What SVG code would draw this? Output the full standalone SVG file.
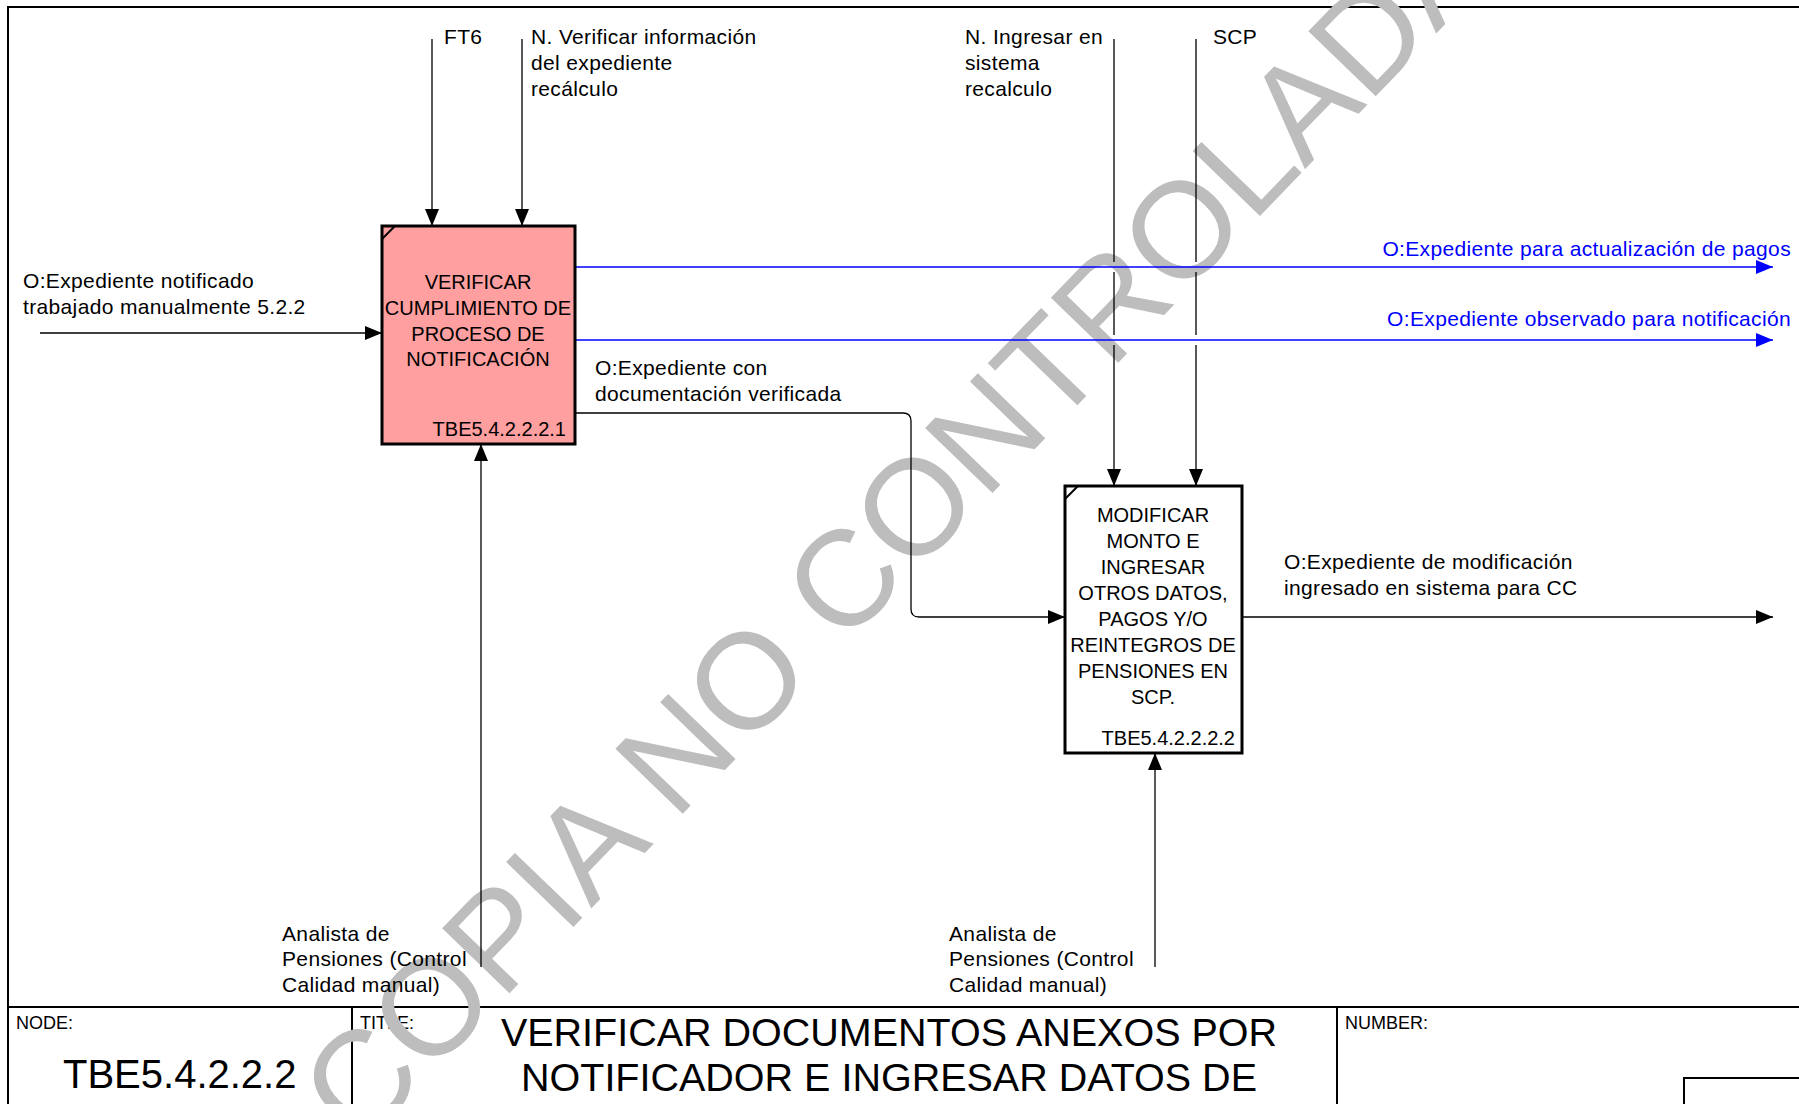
<svg xmlns="http://www.w3.org/2000/svg" width="1799" height="1104" viewBox="0 0 1799 1104">
<style>
text{font-family:"Liberation Sans",Arial,sans-serif;fill:#000}
.lbl{font-size:21px;letter-spacing:0.35px}
.blue{fill:#0000ff}
.bx{font-size:20px;text-anchor:middle}
.id{font-size:20px;text-anchor:end}
.ln{stroke:#000;stroke-width:1.3;fill:none}
.bl{stroke:#0000ff;stroke-width:1.6;fill:none}
.box{stroke:#000;stroke-width:3}
.frame{stroke:#000;stroke-width:2;fill:none}
.small{font-size:18px}
.wm{font-size:136px;fill:#bdbdbd}
</style>
<defs>
<marker id="ah" markerUnits="userSpaceOnUse" markerWidth="18" markerHeight="15" refX="17" refY="7" orient="auto"><path d="M0,0 L17,7 L0,14 z" fill="#000"/></marker>
<marker id="ahb" markerUnits="userSpaceOnUse" markerWidth="18" markerHeight="15" refX="17" refY="7" orient="auto"><path d="M0,0 L17,7 L0,14 z" fill="#0000ff"/></marker>
</defs>
<rect width="1799" height="1104" fill="#fff"/>
<g id="frame">
<path class="frame" d="M8,1104 L8,7 L1799,7"/>
<path class="frame" d="M8,1007 L1799,1007"/>
<path class="frame" d="M352,1007 L352,1104"/>
<path class="frame" d="M1337,1007 L1337,1104"/>
<path class="frame" d="M1684,1104 L1684,1078 L1799,1078"/>
<text class="small" x="16" y="1029">NODE:</text>
<text x="63" y="1088" style="font-size:40px">TBE5.4.2.2.2</text>
<text class="small" x="360" y="1029">TITLE:</text>
<text x="889" y="1046" style="font-size:39.5px" text-anchor="middle">VERIFICAR DOCUMENTOS ANEXOS POR</text>
<text x="889" y="1091" style="font-size:39.5px" text-anchor="middle">NOTIFICADOR E INGRESAR DATOS DE</text>
<text class="small" x="1345" y="1029">NUMBER:</text>
</g>
<g id="watermark">
<text class="wm" transform="translate(360,1148) rotate(-46)">COPIA NO CONTROLADA</text>
</g>
<g id="connectors">
<line class="ln" x1="432" y1="39" x2="432" y2="226" marker-end="url(#ah)"/>
<line class="ln" x1="522" y1="39" x2="522" y2="226" marker-end="url(#ah)"/>
<path class="ln" d="M1114,39 V262 M1114,272 V335 M1114,345 V486" marker-end="url(#ah)"/>
<path class="ln" d="M1196,39 V262 M1196,272 V335 M1196,345 V486" marker-end="url(#ah)"/>
<line class="ln" x1="40" y1="333" x2="382" y2="333" marker-end="url(#ah)"/>
<line class="bl" x1="575" y1="267" x2="1773" y2="267" marker-end="url(#ahb)"/>
<line class="bl" x1="575" y1="340" x2="1773" y2="340" marker-end="url(#ahb)"/>
<path class="ln" d="M575,413 H903 Q911,413 911,421 V609 Q911,617 919,617 H1065" marker-end="url(#ah)"/>
<line class="ln" x1="1243" y1="617" x2="1773" y2="617" marker-end="url(#ah)"/>
<line class="ln" x1="481" y1="967" x2="481" y2="444" marker-end="url(#ah)"/>
<line class="ln" x1="1155" y1="967" x2="1155" y2="753" marker-end="url(#ah)"/>
</g>
<g id="labels">
<text class="lbl" x="444" y="44">FT6</text>
<text class="lbl" x="531" y="44">N. Verificar información</text>
<text class="lbl" x="531" y="70">del expediente</text>
<text class="lbl" x="531" y="96">recálculo</text>
<text class="lbl" x="965" y="44">N. Ingresar en</text>
<text class="lbl" x="965" y="70">sistema</text>
<text class="lbl" x="965" y="96">recalculo</text>
<text class="lbl" x="1213" y="44">SCP</text>
<text class="lbl blue" x="1791" y="256" text-anchor="end">O:Expediente para actualización de pagos</text>
<text class="lbl blue" x="1791" y="326" text-anchor="end">O:Expediente observado para notificación</text>
<text class="lbl" x="23" y="288">O:Expediente notificado</text>
<text class="lbl" x="23" y="314">trabajado manualmente 5.2.2</text>
<text class="lbl" x="595" y="375">O:Expediente con</text>
<text class="lbl" x="595" y="401">documentación verificada</text>
<text class="lbl" x="1284" y="569">O:Expediente de modificación</text>
<text class="lbl" x="1284" y="595">ingresado en sistema para CC</text>
<text class="lbl" x="282" y="941">Analista de</text>
<text class="lbl" x="282" y="966">Pensiones (Control</text>
<text class="lbl" x="282" y="992">Calidad manual)</text>
<text class="lbl" x="949" y="941">Analista de</text>
<text class="lbl" x="949" y="966">Pensiones (Control</text>
<text class="lbl" x="949" y="992">Calidad manual)</text>
</g>
<g id="node1">
<rect class="box" x="382" y="226" width="193" height="218" fill="#ff9f9f"/>
<line x1="382" y1="239" x2="395" y2="226" stroke="#000" stroke-width="2"/>
<text class="bx" x="478" y="289">VERIFICAR</text>
<text class="bx" x="478" y="315">CUMPLIMIENTO DE</text>
<text class="bx" x="478" y="341">PROCESO DE</text>
<text class="bx" x="478" y="366">NOTIFICACIÓN</text>
<text class="id" x="566" y="436">TBE5.4.2.2.2.1</text>
</g>
<g id="node2">
<rect class="box" x="1065" y="486" width="177" height="267" fill="#fff"/>
<line x1="1065" y1="499" x2="1078" y2="486" stroke="#000" stroke-width="2"/>
<text class="bx" x="1153" y="522">MODIFICAR</text>
<text class="bx" x="1153" y="548">MONTO E</text>
<text class="bx" x="1153" y="574">INGRESAR</text>
<text class="bx" x="1153" y="600">OTROS DATOS,</text>
<text class="bx" x="1153" y="626">PAGOS Y/O</text>
<text class="bx" x="1153" y="652">REINTEGROS DE</text>
<text class="bx" x="1153" y="678">PENSIONES EN</text>
<text class="bx" x="1153" y="704">SCP.</text>
<text class="id" x="1235" y="745">TBE5.4.2.2.2.2</text>
</g>
</svg>
